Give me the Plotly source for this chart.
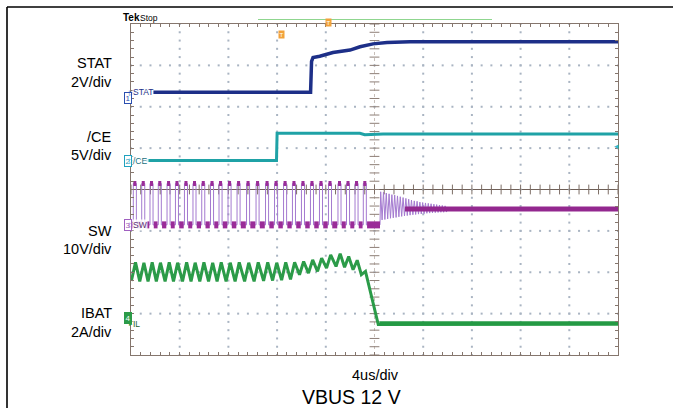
import numpy as np
import plotly.graph_objects as go

# ------------------------------------------------------------------
# Data (physical units)
# ------------------------------------------------------------------
time_div_us = 4            # 4us/div, 10 divisions -> -20 .. 20 us

# Channel 1 : STAT (V), 2V/div
stat_t = [-18.2, -5.25, -5.17, -5.05, -4.5, -3.41, -2.01, -1.19, -0.12, 1.03, 2.92, 20.0]
stat_v = [0.0, 0.0, 1.50, 1.68, 1.74, 1.92, 2.04, 2.20, 2.34, 2.40, 2.44, 2.44]

# Channel 2 : /CE (V), 5V/div
ce_t = [-18.75, -8.05, -8.0, -1.2, -0.8, 0.4, 0.7, 20.0]
ce_v = [0.0, 0.0, 3.30, 3.30, 3.12, 3.15, 3.22, 3.22]

# Channel 3 : SW (V), 10V/div
sw_pulse_t = [-19.81, -19.12, -18.44, -17.76, -17.04, -16.35, -15.61, -14.91, -14.19,
              -13.47, -12.77, -12.03, -11.29, -10.51, -9.73, -8.95, -8.21, -7.47,
              -6.74, -6.00, -5.26, -4.52, -3.78, -3.00, -2.30, -1.60, -0.92]
sw_pulse_width = 0.25
sw_high_v = 10.0
sw_low_v = 0.0
sw_ring_start = 0.45
sw_ring_period = 0.23
sw_ring_hi = [8.0, 7.9, 7.7, 7.5, 7.3, 7.2, 7.0, 6.8, 6.6, 6.4, 6.2, 6.0,
              5.8, 5.7, 5.5, 5.4, 5.3, 5.2, 5.1, 5.0, 4.9, 4.8, 4.7, 4.6]
sw_ring_lo = [1.2, 1.3, 1.45, 1.6, 1.7, 1.8, 1.95, 2.05, 2.15, 2.25, 2.35, 2.45,
              2.5, 2.6, 2.65, 2.7, 2.8, 2.85, 2.9, 2.95, 3.0, 3.05, 3.05, 3.1]
sw_settle_v = 3.86

# Channel 4 : IBAT (A), 2A/div  (one peak / trough per switching cycle)
ibat_peak = [2.96, 2.94, 2.96, 2.94, 2.96, 2.94, 2.96, 2.94, 2.96, 2.94, 2.96, 2.94,
             2.96, 2.94, 2.96, 2.96, 2.94, 2.96, 2.96, 3.00, 3.08, 3.16, 3.32, 3.38,
             3.24, 3.06, 2.52]
ibat_trough = [2.06, 2.04, 2.04, 2.04, 2.04, 2.04, 2.04, 2.04, 2.04, 2.04, 2.04, 2.04,
               2.04, 2.04, 2.04, 2.06, 2.08, 2.10, 2.14, 2.36, 2.44, 2.52, 2.68, 2.76,
               2.72, 2.60, 2.36]
ibat_end_t = [0.31, 20.0]
ibat_end_a = [-0.05, 0.0]

# channel display settings: (volts-or-amps per div, ground position in div)
ch_scale = {"STAT": 2.0, "CE": 5.0, "SW": 10.0, "IBAT": 2.0}
ch_ground = {"STAT": 2.35, "CE": 0.70, "SW": -0.855, "IBAT": -3.24}

def to_div(ch, vals):
    return [None if v is None else v / ch_scale[ch] + ch_ground[ch] for v in vals]

# ------------------------------------------------------------------
W, H = 673, 408
L, R, T, B = 131, 55, 24, 53
PW, PH = W - L - R, H - T - B

def PX(px):
    return (px - L) / PW

def PY(py):
    return (H - B - py) / PH

fig = go.Figure()

# --- graticule dots ---
gx, gy = [], []
for xv in [-16, -12, -8, -4, 4, 8, 12, 16]:
    for yv in np.arange(-4, 4.001, 0.2):
        gx.append(xv); gy.append(yv)
for yv in [-3, -2, -1, 1, 2, 3]:
    for xv in np.arange(-20, 20.001, 0.8):
        gx.append(xv); gy.append(yv)
fig.add_trace(go.Scatter(x=gx, y=gy, mode="markers",
                         marker=dict(symbol="square", size=2, color="#a9b4c2"),
                         hoverinfo="skip", showlegend=False))

# center-line ticks
cx = list(np.arange(-20, 20.001, 0.8))
fig.add_trace(go.Scatter(x=cx, y=[0] * len(cx), mode="markers",
                         marker=dict(symbol="line-ns", size=7,
                                     line=dict(width=1, color="#7d6e66")),
                         hoverinfo="skip", showlegend=False))
cy = list(np.arange(-4, 4.001, 0.2))
fig.add_trace(go.Scatter(x=[0] * len(cy), y=cy, mode="markers",
                         marker=dict(symbol="line-ew", size=7,
                                     line=dict(width=1, color="#8d7e76")),
                         hoverinfo="skip", showlegend=False))

# --- SW (channel 3) ---
sw_x, sw_y = [-20.0], [sw_low_v]
for p in sw_pulse_t:
    sw_x += [p, p, p + sw_pulse_width, p + sw_pulse_width]
    sw_y += [sw_low_v, sw_high_v, sw_high_v, sw_low_v]
sw_x.append(sw_ring_start); sw_y.append(sw_low_v)
for k, (hi, lo) in enumerate(zip(sw_ring_hi, sw_ring_lo)):
    sw_x += [sw_ring_start + sw_ring_period * (k + 0.25),
             sw_ring_start + sw_ring_period * (k + 0.75)]
    sw_y += [hi, lo]
ring_end = sw_ring_start + sw_ring_period * len(sw_ring_hi)
sw_x += [ring_end, 20.0]
sw_y += [sw_settle_v, sw_settle_v]

cap_x, cap_y, low_x, low_y = [], [], [], []
prev_end = -20.0
for p in sw_pulse_t:
    cap_x += [p, p + sw_pulse_width, None]
    cap_y += [sw_high_v, sw_high_v, None]
    low_x += [prev_end + 0.06, p - 0.06, None]
    low_y += [sw_low_v, sw_low_v, None]
    prev_end = p + sw_pulse_width
low_x += [prev_end + 0.06, sw_ring_start, None]
low_y += [sw_low_v, sw_low_v, None]

fig.add_trace(go.Scatter(x=sw_x, y=to_div("SW", sw_y), mode="lines",
                         line=dict(color="#a47ad0", width=1),
                         hoverinfo="skip", showlegend=False))
fig.add_trace(go.Scatter(x=low_x, y=to_div("SW", low_y), mode="lines",
                         line=dict(color="#9a2c98", width=7),
                         hoverinfo="skip", showlegend=False))
fig.add_trace(go.Scatter(x=cap_x, y=to_div("SW", cap_y), mode="lines",
                         line=dict(color="#9a2c98", width=5),
                         hoverinfo="skip", showlegend=False))
fig.add_trace(go.Scatter(x=[2.5, 20.0], y=to_div("SW", [sw_settle_v, sw_settle_v]),
                         mode="lines", line=dict(color="#93288f", width=5),
                         hoverinfo="skip", showlegend=False))

# --- IBAT (channel 4) ---
ib_x, ib_y = [], []
for p, pk, tr in zip(sw_pulse_t, ibat_peak, ibat_trough):
    ib_x += [p - 0.16, p + 0.18]
    ib_y += [tr, pk]
ib_x += ibat_end_t
ib_y += ibat_end_a
fig.add_trace(go.Scatter(x=ib_x, y=to_div("IBAT", ib_y), mode="lines",
                         line=dict(color="#2b9b48", width=3),
                         hoverinfo="skip", showlegend=False))
fig.add_trace(go.Scatter(x=[0.4, 20.0], y=to_div("IBAT", [0.0, 0.0]), mode="lines",
                         line=dict(color="#249a44", width=4.5),
                         hoverinfo="skip", showlegend=False))

# --- /CE (channel 2) ---
fig.add_trace(go.Scatter(x=ce_t, y=to_div("CE", ce_v), mode="lines",
                         line=dict(color="#1fa2a6", width=3),
                         hoverinfo="skip", showlegend=False))

# --- STAT (channel 1) ---
fig.add_trace(go.Scatter(x=stat_t, y=to_div("STAT", stat_v), mode="lines",
                         line=dict(color="#1d2f88", width=3.5),
                         hoverinfo="skip", showlegend=False))

# ------------------------------------------------------------------
shapes = [
    # center lines
    dict(type="line", xref="x", yref="y", x0=-20, x1=20, y0=0, y1=0,
         line=dict(color="#6f6058", width=1.2), layer="below"),
    dict(type="line", xref="x", yref="y", x0=0, x1=0, y0=-4, y1=4,
         line=dict(color="#c8bfb9", width=1, dash="dot"), layer="below"),
    # outer page frame lines
    dict(type="line", xref="paper", yref="paper", x0=PX(7), x1=PX(673),
         y0=PY(7), y1=PY(7), line=dict(color="black", width=1.6)),
    dict(type="line", xref="paper", yref="paper", x0=PX(7), x1=PX(7),
         y0=PY(7), y1=PY(408), line=dict(color="black", width=1.6)),
    # record bar on top
    dict(type="line", xref="paper", yref="paper", x0=PX(258), x1=PX(492),
         y0=PY(19.5), y1=PY(19.5), line=dict(color="#8fd68f", width=1.2)),
]

FONT = "Liberation Sans, Arial, sans-serif"
ann = []

def label(text, px, py, size=14.5, xanchor="right", color="black",
          yanchor="middle", **kw):
    ann.append(dict(text=text, x=PX(px), y=PY(py), xref="paper", yref="paper",
                    xanchor=xanchor, yanchor=yanchor, showarrow=False,
                    font=dict(family=FONT, size=size, color=color), **kw))

for txt, py in [("STAT", 63), ("2V/div", 82), ("/CE", 137), ("5V/div", 155),
                ("SW", 231), ("10V/div", 249), ("IBAT", 313), ("2A/div", 332)]:
    label(txt, 114, py)

label("4us/div", 375, 375, size=14.5, xanchor="center")
label("VBUS 12 V", 351, 397, size=19.5, xanchor="center")

# Tek header
label("<b>Tek</b>", 120.5, 25, size=10, xanchor="left", yanchor="bottom")
label("Stop", 138, 24.6, size=8.5, xanchor="left", yanchor="bottom")

# trigger markers
for px, py in [(328, 18.5), (278, 30)]:
    ann.append(dict(text="T", x=PX(px), y=PY(py), xref="paper", yref="paper",
                    showarrow=False, bgcolor="#f2a23a", borderpad=0.5,
                    font=dict(family=FONT, size=6, color="white")))

# channel ground markers
markers = [("1", "STAT", "#2b4fb0", "white", "#1d2f88", "STAT"),
           ("2", "CE", "#1fa2c0", "white", "#1a6f80", "/CE"),
           ("3", "SW", "#a060c0", "white", "#5a2a70", "SW"),
           ("4", "IBAT", "#2b9b48", "#2b9b48", "#1f5f2f", "IL")]
for num, ch, bcol, bg, tcol, txt in markers:
    ydiv = ch_ground[ch]
    py = (H - B) - (ydiv + 4) / 8 * PH
    ann.append(dict(text=num, x=PX(124), y=PY(py), xref="paper", yref="paper",
                    showarrow=False, bordercolor=bcol, borderwidth=1, borderpad=0.5,
                    bgcolor=bg,
                    font=dict(family=FONT, size=8,
                              color=("white" if bg != "white" else bcol))))
    label("▷" if ch != "IBAT" else "▸", 127, py, size=7, xanchor="left", color=bcol)
    label(txt, 132, py, size=8.5, xanchor="left", color=tcol,
          bgcolor="rgba(255,255,255,0.85)", borderpad=0)

# right-hand reference arrow
label("◂", 612, 146, size=9, xanchor="left", color="#30b8d0")

fig.update_layout(
    width=W, height=H,
    margin=dict(l=L, r=R, t=T, b=B, pad=0),
    paper_bgcolor="white", plot_bgcolor="white",
    xaxis=dict(range=[-20, 20], showgrid=False, zeroline=False,
               showline=True, linecolor="#85766d", linewidth=1.2, mirror="ticks",
               ticks="inside", tickvals=list(np.arange(-20, 20.001, 0.8)),
               ticklen=3, tickcolor="#85766d", tickwidth=1,
               showticklabels=False, fixedrange=True),
    yaxis=dict(range=[-4, 4], showgrid=False, zeroline=False,
               showline=True, linecolor="#85766d", linewidth=1.2, mirror="ticks",
               ticks="inside", tickvals=list(np.arange(-4, 4.001, 0.2)),
               ticklen=3, tickcolor="#85766d", tickwidth=1,
               showticklabels=False, fixedrange=True),
    shapes=shapes,
    annotations=ann,
    showlegend=False,
)

fig.write_html("out.html",
               config={"displayModeBar": False},
               post_script="document.body.style.margin='0';"
                           "document.body.style.overflow='hidden';")
